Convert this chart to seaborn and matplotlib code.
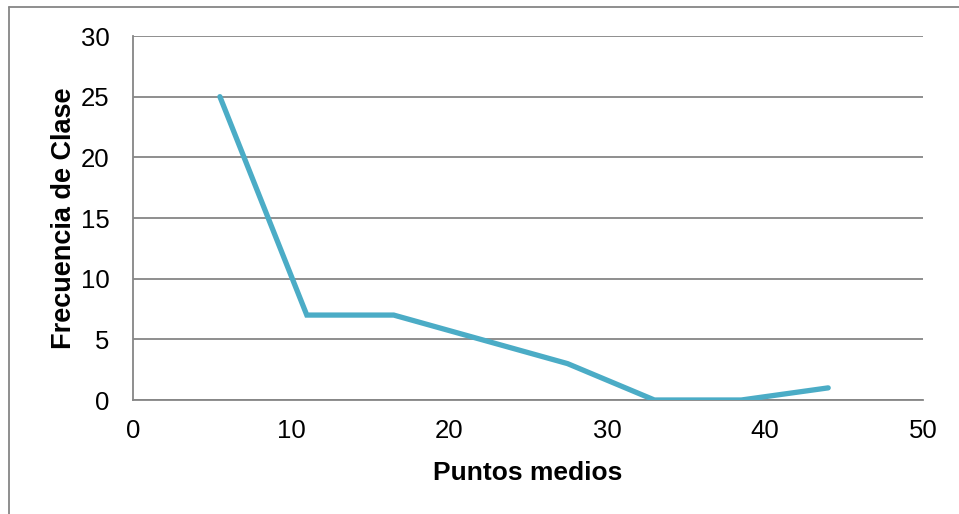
import matplotlib
matplotlib.use("Agg")
import matplotlib.pyplot as plt
from matplotlib.lines import Line2D
import seaborn as sns
import pandas as pd

# Class midpoints and their frequencies
puntos_medios = [5.5, 11, 16.5, 22, 27.5, 33, 38.5, 44]
frecuencia = [25, 7, 7, 5, 3, 0, 0, 1]

x_ticks = [0, 10, 20, 30, 40, 50]
y_ticks = [0, 5, 10, 15, 20, 25, 30]

df = pd.DataFrame({"Puntos medios": puntos_medios, "Frecuencia de Clase": frecuencia})

sns.set_style("white")
plt.rcParams["font.family"] = ["Liberation Sans", "DejaVu Sans"]
plt.rcParams["text.color"] = "black"
plt.rcParams["axes.labelcolor"] = "black"

W, H = 959, 514
fig = plt.figure(figsize=(W / 100, H / 100), dpi=100)
ax = fig.add_axes([133 / W, 1 - 400 / H, (923 - 133) / W, (400 - 36) / H])

grid_color = "#868686"
line_color = "#4BACC6"

sns.lineplot(data=df, x="Puntos medios", y="Frecuencia de Clase", ax=ax,
             color=line_color, linewidth=3.8, solid_capstyle="round",
             solid_joinstyle="miter", zorder=3)

ax.set_xlim(0, 50)
ax.set_ylim(0, 30)
ax.set_xticks(x_ticks)
ax.set_yticks(y_ticks)
ax.set_xticklabels([str(v) for v in x_ticks])
ax.set_yticklabels([str(v) for v in y_ticks])

ax.yaxis.grid(True, color=grid_color, linewidth=1.3)
ax.xaxis.grid(False)
ax.set_axisbelow(True)

for side in ["top", "right"]:
    ax.spines[side].set_visible(False)
for side in ["left", "bottom"]:
    ax.spines[side].set_color(grid_color)
    ax.spines[side].set_linewidth(1.3)

ax.tick_params(axis="both", length=0, labelsize=18.5, colors="black", labelcolor="black")
ax.tick_params(axis="y", pad=17)
ax.tick_params(axis="x", pad=14)

ax.set_xlabel("Puntos medios", fontsize=19, fontweight="bold", labelpad=13, color="black")
ax.set_ylabel("Frecuencia de Clase", fontsize=19.5, fontweight="bold", labelpad=2.5, color="black")

# Chart area frame (left and top edges visible)
fig.add_artist(Line2D([8.5 / W, 8.5 / W], [0, 1 - 6.5 / H], transform=fig.transFigure,
                      color=grid_color, linewidth=1.3))
fig.add_artist(Line2D([8.5 / W, 1], [1 - 6.5 / H, 1 - 6.5 / H], transform=fig.transFigure,
                      color=grid_color, linewidth=1.3))

fig.savefig("out.png", dpi=100, facecolor="white")
